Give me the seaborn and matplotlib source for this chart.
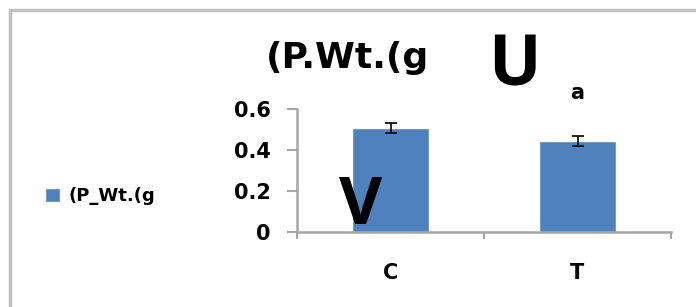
import pandas as pd
import numpy as np
import matplotlib
matplotlib.use("Agg")
import matplotlib.pyplot as plt
import seaborn as sns
from matplotlib.patches import Rectangle

# chart data
groups = ['C', 'T']
means = [0.507, 0.445]
errors = [0.025, 0.025]
letters = ['', 'a']
series_name = '(P_Wt.(g'
title_text = '(P.Wt.(g'
y_ticks = [0, 0.2, 0.4, 0.6]
y_labels = ['0', '0.2', '0.4', '0.6']

bar_color = '#4F81BD'
axis_grey = '#a6a6a6'

sns.set_style('white', {'text.color': 'black', 'xtick.color': 'black',
                        'ytick.color': 'black', 'axes.labelcolor': 'black'})
plt.rcParams['font.family'] = ['DejaVu Sans']

df = pd.DataFrame({'group': groups, 'value': means, 'series': series_name})

fig = plt.figure(figsize=(6.96, 3.07), dpi=100)
ax = fig.add_axes([297/696, 1-232/307, (671-297)/696, (232-109)/307])

sns.barplot(data=df, x='group', y='value', hue='series', palette=[bar_color],
            dodge=False, width=0.41, errorbar=None, ax=ax, legend=True, saturation=1)
ax.errorbar(x=np.arange(len(groups)), y=means, yerr=errors, fmt='none',
            ecolor='#111111', elinewidth=1.3, capsize=4.5, capthick=1.3)

ax.set_xlim(-0.5, 1.5)
ax.set_ylim(0, 0.6)
ax.set_yticks(y_ticks)
ax.set_yticklabels(y_labels, fontsize=15, fontweight='bold')
ax.set_xticks(range(len(groups)))
ax.set_xticklabels(groups, fontsize=15, fontweight='bold')
ax.set_xticks([-0.5, 0.5, 1.5], minor=True)
ax.tick_params(axis='x', which='major', bottom=True, length=0, pad=22, labelcolor='black')
ax.tick_params(axis='x', which='minor', bottom=True, length=5, width=1.5,
               color=axis_grey, direction='out')
ax.tick_params(axis='y', left=True, length=7, width=1.5, color=axis_grey,
               direction='out', pad=12, labelcolor='black')
ax.set_xlabel('')
ax.set_ylabel('')
for side in ['top', 'right']:
    ax.spines[side].set_visible(False)
for side in ['left', 'bottom']:
    ax.spines[side].set_color(axis_grey)
    ax.spines[side].set_linewidth(1.8)

# letters above bars
for i, lt in enumerate(letters):
    if lt:
        ax.text(i, 0.63, lt, ha='center', va='bottom', fontsize=15,
                fontweight='bold', color='black', clip_on=False)

# legend on the left
handles, labels = ax.get_legend_handles_labels()
ax.get_legend().remove()
fig.legend(handles, labels, loc='center left', bbox_to_anchor=(45/696, 1-196/307),
           frameon=False, prop={'size': 13, 'weight': 'bold'},
           handlelength=0.85, handleheight=0.85, handletextpad=0.45,
           borderpad=0, borderaxespad=0, labelcolor='black')

# title and overlay letters
fig.text(266/696, 1-58/307, title_text, ha='left', va='center', fontsize=26,
         fontweight='bold', color='black')
fig.text(514/696, 1-67/307, 'U', ha='center', va='center', fontsize=50,
         family='Open Sans', fontweight='bold', color='black')
fig.text(361/696, 1-207/307, 'V', ha='center', va='center', fontsize=48,
         family='Open Sans', fontweight='bold', color='black')

# outer chart frame
fig.add_artist(Rectangle((10/696, -0.2), 1.2, 1.2 - 10/307, fill=False,
                         edgecolor='#c0c0c0', lw=2.5, transform=fig.transFigure))

fig.savefig('out.png', dpi=100)
